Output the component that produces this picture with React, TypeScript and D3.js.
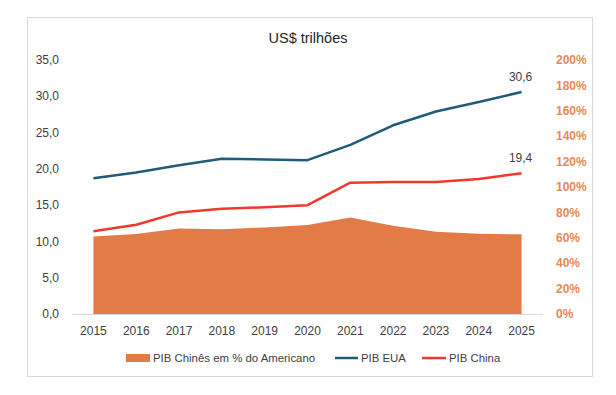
import React from "react";
import * as d3 from "d3";

const years = ["2015","2016","2017","2018","2019","2020","2021","2022","2023","2024","2025"];
const pibEUA = [18.7, 19.5, 20.5, 21.4, 21.3, 21.2, 23.3, 26.0, 27.9, 29.2, 30.6];
const pibChina = [11.4, 12.3, 14.0, 14.5, 14.7, 15.0, 18.1, 18.2, 18.2, 18.6, 19.4];
const pctChina = [61, 63, 67.4, 66.8, 68.2, 70.1, 76, 69.5, 64.8, 63.2, 62.7];
const leftTicks = [0, 5, 10, 15, 20, 25, 30, 35];
const rightTicks = [0, 20, 40, 60, 80, 100, 120, 140, 160, 180, 200];

const W = 616, H = 395;
const M = { left: 72, right: 543, top: 60, bottom: 314 };
const FONT = "'Liberation Sans Narrow', 'Liberation Sans', Arial, sans-serif";

const cAreaCol = "#E27B45";
const cBlue = "#1F5C7A";
const cRed = "#EE3A2E";
const cText = "#404040";
const cRight = "#E58A55";

export default function App() {
  const x = d3.scalePoint<string>().domain(years).range([M.left, M.right]).padding(0.5);
  const yL = d3.scaleLinear().domain([0, 35]).range([M.bottom, M.top]);
  const yR = d3.scaleLinear().domain([0, 200]).range([M.bottom, M.top]);

  const area = d3.area<number>()
    .x((_, i) => x(years[i])!)
    .y0(yR(0))
    .y1((d) => yR(d));
  const line = d3.line<number>()
    .x((_, i) => x(years[i])!)
    .y((d) => yL(d));

  const fmt = (v: number) => v.toFixed(1).replace(".", ",");
  const last = years.length - 1;

  return (
    <svg width={W} height={H} style={{ position: "absolute", left: 0, top: 0 }} fontFamily={FONT}>
      <rect x={0} y={0} width={W} height={H} fill="#fff" />
      <rect x={27.5} y={17.5} width={565} height={359} fill="#fff" stroke="#d9d9d9" strokeWidth={1} />
      <text x={308} y={43} textAnchor="middle" fontSize={14.5} fill="#262626">US$ trilhões</text>

      <path d={area(pctChina) || ""} fill={cAreaCol} />
      <line x1={M.left} x2={M.right} y1={M.bottom + 0.5} y2={M.bottom + 0.5} stroke="#d9d9d9" />
      <path d={line(pibEUA) || ""} fill="none" stroke={cBlue} strokeWidth={2.5} strokeLinejoin="round" />
      <path d={line(pibChina) || ""} fill="none" stroke={cRed} strokeWidth={2.5} strokeLinejoin="round" />

      {leftTicks.map((t) => (
        <text key={"l" + t} x={59} y={yL(t)} dy="0.35em" textAnchor="end" fontSize={12} fill={cText}>{fmt(t)}</text>
      ))}
      {rightTicks.map((t) => (
        <text key={"r" + t} x={556} y={yR(t)} dy="0.35em" textAnchor="start" fontSize={12} fontWeight="bold" fill={cRight}>{t + "%"}</text>
      ))}
      {years.map((yv) => (
        <text key={yv} x={x(yv)!} y={331} dy="0.35em" textAnchor="middle" fontSize={12} fill={cText}>{yv}</text>
      ))}

      <text x={x(years[last])! - 1} y={yL(pibEUA[last]) - 15} dy="0.35em" textAnchor="middle" fontSize={12} fill={cText}>{fmt(pibEUA[last])}</text>
      <text x={x(years[last])! - 1} y={yL(pibChina[last]) - 15} dy="0.35em" textAnchor="middle" fontSize={12} fill={cText}>{fmt(pibChina[last])}</text>

      <g fontSize={11.4} fill={cText}>
        <rect x={126} y={354} width={24} height={8} fill={cAreaCol} />
        <text x={153} y={358} dy="0.35em">PIB Chinês em % do Americano</text>
        <line x1={335} x2={358} y1={358} y2={358} stroke={cBlue} strokeWidth={2.5} />
        <text x={361} y={358} dy="0.35em">PIB EUA</text>
        <line x1={422} x2={446} y1={358} y2={358} stroke={cRed} strokeWidth={2.5} />
        <text x={449} y={358} dy="0.35em">PIB China</text>
      </g>
    </svg>
  );
}
